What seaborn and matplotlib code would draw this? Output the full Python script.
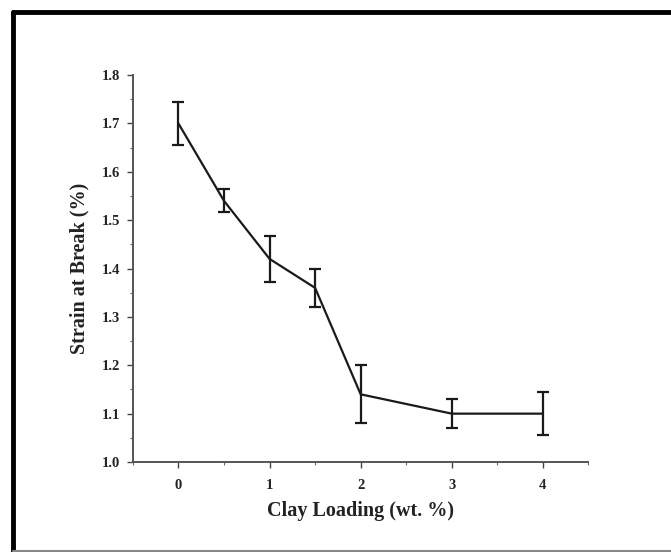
import numpy as np
import pandas as pd
import matplotlib
matplotlib.use('Agg')
import matplotlib.pyplot as plt
import seaborn as sns
from matplotlib.lines import Line2D
from matplotlib.ticker import MultipleLocator

# Data
clay_loading = [0, 0.5, 1, 1.5, 2, 3, 4]
strain_at_break = [1.70, 1.54, 1.42, 1.36, 1.14, 1.10, 1.10]
strain_error = [0.045, 0.024, 0.048, 0.040, 0.060, 0.030, 0.045]
x_ticks = [0, 1, 2, 3, 4]
y_ticks = [1.0, 1.1, 1.2, 1.3, 1.4, 1.5, 1.6, 1.7, 1.8]

df = pd.DataFrame({'clay': clay_loading, 'strain': strain_at_break, 'err': strain_error})

sns.set_theme(style='ticks')
plt.rcParams['font.family'] = ['Liberation Serif', 'DejaVu Serif']
plt.rcParams['font.weight'] = 'bold'

fig = plt.figure(figsize=(6.71, 5.52), dpi=100)
ax = fig.add_axes([0.198, 0.163, 0.679, 0.701])

sns.lineplot(data=df, x='clay', y='strain', color='#1a1a1a', linewidth=1.6, ax=ax)
ax.errorbar(df['clay'], df['strain'], yerr=df['err'], fmt='none',
            ecolor='#1a1a1a', elinewidth=1.6, capsize=4, capthick=1.6)

ax.set_xlim(-0.5, 4.5)
ax.set_ylim(1.0, 1.8)
ax.set_xticks(x_ticks)
ax.set_yticks(y_ticks)
ax.set_yticklabels([f'{v:.1f}' for v in y_ticks])
ax.xaxis.set_minor_locator(MultipleLocator(0.5))
ax.yaxis.set_minor_locator(MultipleLocator(0.05))
ax.tick_params(which='major', direction='out', length=4, width=1, colors='#444444',
               labelcolor='#222222', labelsize=10.5)
ax.tick_params(axis='x', which='major', pad=8)
ax.tick_params(axis='y', which='major', pad=5)
ax.tick_params(which='minor', direction='out', length=2.5, width=0.8, colors='#666666')
for lab in ax.get_xticklabels() + ax.get_yticklabels():
    lab.set_fontweight('bold')

ax.set_xlabel('Clay Loading (wt. %)', fontsize=14.5, fontweight='bold', color='#222222', labelpad=7)
ax.set_ylabel('Strain at Break (%)', fontsize=14.5, fontweight='bold', color='#222222', labelpad=9)

sns.despine(ax=ax)
for s in ['left', 'bottom']:
    ax.spines[s].set_color('#555555')
    ax.spines[s].set_linewidth(1.4)

# Frame around the figure (black top/left, grey bottom, open right)
fig.add_artist(Line2D([13 / 671, 1.0], [1 - 12 / 552, 1 - 12 / 552], color='black',
                      linewidth=3.5, transform=fig.transFigure))
fig.add_artist(Line2D([13 / 671, 13 / 671], [1 - 12 / 552, 0.0], color='black',
                      linewidth=3.5, transform=fig.transFigure))
fig.add_artist(Line2D([13 / 671, 1.0], [1 / 552, 1 / 552], color='#888888',
                      linewidth=1.5, transform=fig.transFigure))

fig.savefig('out.png', dpi=100, facecolor='white')
